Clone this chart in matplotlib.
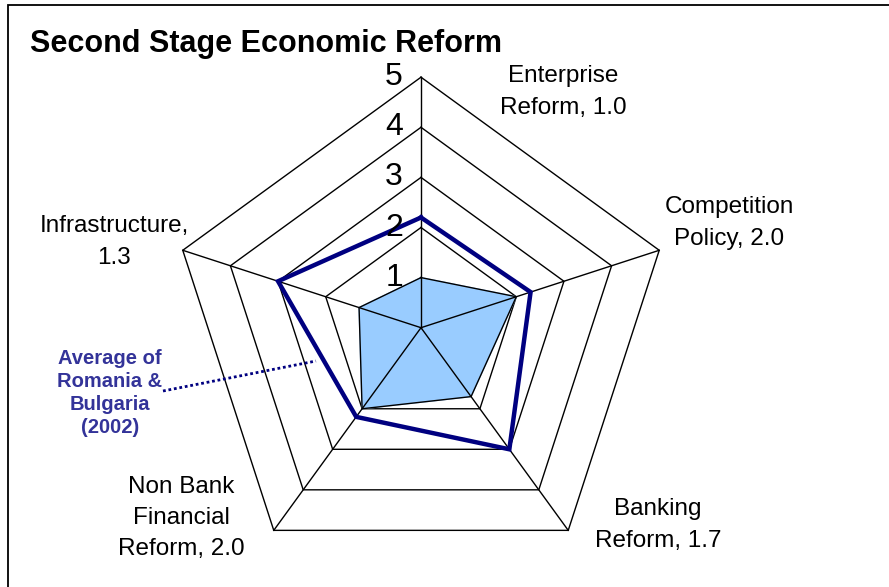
import numpy as np
import matplotlib
matplotlib.use("Agg")
import matplotlib.pyplot as plt
from matplotlib.patches import Rectangle
from matplotlib.lines import Line2D

plt.rcParams['font.family'] = ['Liberation Sans', 'DejaVu Sans']

# ---- data ----
categories = ["Enterprise\nReform", "Competition\nPolicy", "Banking\nReform",
              "Non Bank\nFinancial\nReform", "Infrastructure\n"]
country_values = [1.0, 2.0, 1.7, 2.0, 1.3]          # filled series
average_values = [2.2, 2.3, 3.0, 2.2, 3.0]          # Romania & Bulgaria avg (2002)
radial_ticks = [1, 2, 3, 4, 5]
title = "Second Stage Economic Reform"
average_label = "Average of\nRomania &\nBulgaria\n(2002)"

W, H = 889, 587
fig = plt.figure(figsize=(W / 100, H / 100), dpi=100)

def fx(px):
    return px / W

def fy(py):
    return 1 - py / H

# polar axes positioned so the centre is at (421, 327.7) px and r=5 -> 250.5 px
cx, cy, R = 421, 327.7, 250.5
ax = fig.add_axes([fx(cx - R), fy(cy + R), 2 * R / W, 2 * R / H], projection='polar')
ax.set_theta_offset(np.pi / 2)
ax.set_theta_direction(-1)
ax.set_ylim(0, 5)
ax.grid(False)
ax.set_xticks([])
ax.set_yticks([])
ax.spines['polar'].set_visible(False)
ax.patch.set_alpha(0)

n = len(categories)
theta = np.arange(n) * 2 * np.pi / n
theta_c = np.append(theta, theta[0])

# pentagon grid (behind the fill)
for r in radial_ticks:
    ax.plot(theta_c, [r] * (n + 1), color='black', lw=1.0, zorder=1, clip_on=False)

# filled series
cv = np.append(country_values, country_values[0])
ax.fill(theta_c, cv, color='#99CCFF', zorder=2, clip_on=False)
ax.plot(theta_c, cv, color='black', lw=1.0, zorder=3, clip_on=False)

# spokes (on top of the fill)
for t in theta:
    ax.plot([t, t], [0, max(radial_ticks)], color='black', lw=1.0, zorder=3, clip_on=False)

# average line
av = np.append(average_values, average_values[0])
ax.plot(theta_c, av, color='#000080', lw=3.2, zorder=4, clip_on=False,
        solid_joinstyle='miter')

# radial tick labels
for r in radial_ticks:
    ax.annotate(str(r), xy=(0, r), xytext=(-18, 0), textcoords='offset pixels',
                ha='right', va='center', fontsize=23, zorder=5, annotation_clip=False)

# category labels
label_pos = [(563, 92), (729, 223), (658, 525), (181, 518), (114, 242)]
for name, val, (px, py) in zip(categories, country_values, label_pos):
    if name.endswith("\n"):
        txt = f"{name.rstrip()},\n{val:.1f}"
    else:
        txt = f"{name}, {val:.1f}"
    fig.text(fx(px), fy(py), txt, ha='center', va='center', fontsize=17.5,
             linespacing=1.55, multialignment='center')

# title
fig.text(fx(30), fy(44), title, ha='left', va='center', fontsize=22, fontweight='bold')

# annotation
fig.text(fx(110), fy(393), average_label, ha='center', va='center', fontsize=14.5,
         fontweight='bold', color='#333399', linespacing=1.28)
fig.add_artist(Line2D([fx(163), fx(316)], [fy(391), fy(361)], transform=fig.transFigure,
                      color='#000080', lw=2.0, linestyle=(0, (1, 1))))

# frame
fig.add_artist(Rectangle((fx(8), -0.5), 2, fy(5) + 0.5, transform=fig.transFigure,
                         fill=False, edgecolor='black', lw=1.3))

fig.savefig("out.png", dpi=100)
